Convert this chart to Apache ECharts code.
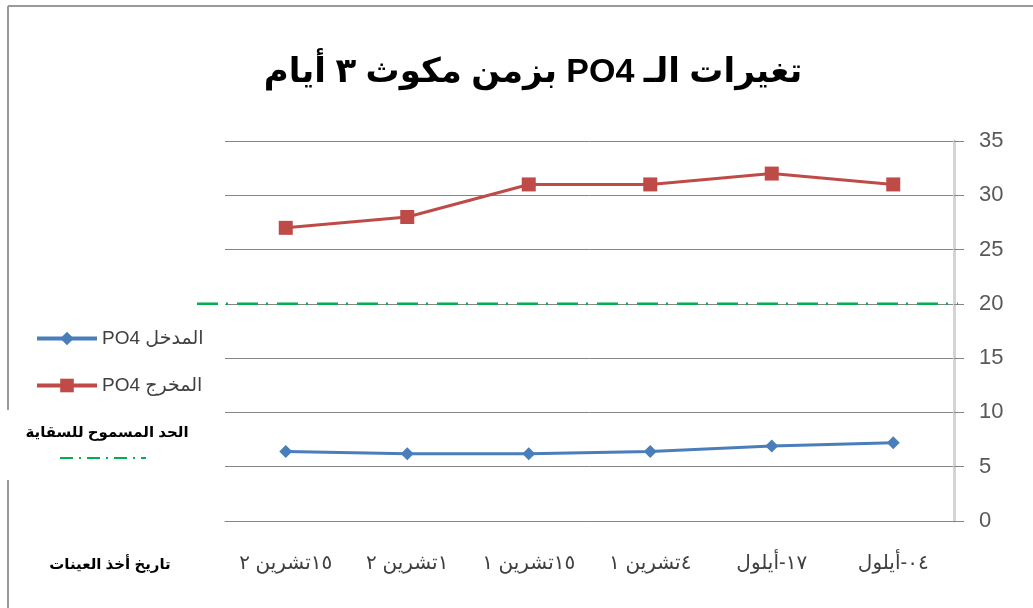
<!DOCTYPE html>
<html>
<head>
<meta charset="utf-8">
<script src="https://cdn.jsdelivr.net/npm/echarts@6/dist/echarts.min.js"></script>
<style>html,body{margin:0;padding:0;background:#fff}#c{width:1033px;height:608px}</style>
</head>
<body>
<div id="c"></div>
<script>
// ---- data ----
const titleText = 'تغيرات الـ PO4 بزمن مكوث ٣ أيام';
const categories = ['٠٤-أيلول', '١٧-أيلول', '٤تشرين ١', '١٥تشرين ١', '١تشرين ٢', '١٥تشرين ٢'];
const inputName = 'PO4 المدخل';
const outputName = 'PO4 المخرج';
const inputPO4 = [7.2, 6.9, 6.4, 6.2, 6.2, 6.4];
const outputPO4 = [31, 32, 31, 31, 28, 27];
const limitName = 'الحد المسموح للسقاية';
const limitValue = 20;
const xAxisTitle = 'تاريخ أخذ العينات';
const yMin = 0, yMax = 35, yStep = 5;

const FONT = '"Liberation Sans", "DejaVu Sans", Arial, sans-serif';
const chart = echarts.init(document.getElementById('c'), null, {renderer: 'canvas'});

const option = {
  backgroundColor: '#ffffff',
  animation: false,
  title: {
    text: '\u202B' + titleText + '\u202C',
    left: 528, top: 51, textAlign: 'center',
    textStyle: {fontFamily: FONT, fontWeight: 'bold', fontSize: 34, color: '#000'}
  },
  legend: {
    orient: 'vertical', left: 30, top: 324,
    itemWidth: 60, itemHeight: 17, itemGap: 28,
    lineStyle: {width: 4},
    textStyle: {fontFamily: FONT, fontSize: 19, color: '#404040'},
    data: [inputName, outputName]
  },
  grid: [
    {left: 225, right: 79, top: 141, bottom: 87},
    {left: 197, right: 75, top: 141, bottom: 87}
  ],
  xAxis: [
    {
      type: 'category', gridIndex: 0, data: categories, inverse: true,
      axisLine: {lineStyle: {color: '#868686', width: 1}},
      axisTick: {length: 8, lineStyle: {color: '#868686'}},
      axisLabel: {margin: 32, fontSize: 20, color: '#404040', fontFamily: FONT}
    },
    {type: 'value', gridIndex: 1, min: 0, max: 1, show: false}
  ],
  yAxis: [
    {
      type: 'value', gridIndex: 0, position: 'right', min: yMin, max: yMax, interval: yStep,
      axisLine: {show: true, lineStyle: {color: '#d4d4d4', width: 3}},
      axisTick: {show: true, length: 10, lineStyle: {color: '#868686'}},
      splitLine: {lineStyle: {color: '#868686', width: 1}},
      axisLabel: {margin: 25, fontSize: 22, color: '#595959', fontFamily: FONT}
    },
    {type: 'value', gridIndex: 1, min: yMin, max: yMax, show: false}
  ],
  series: [
    {
      name: limitName, type: 'line', xAxisIndex: 1, yAxisIndex: 1,
      data: [[0, limitValue], [1, limitValue]], symbol: 'none', z: 3,
      lineStyle: {color: '#00B050', width: 2.5, type: [21, 8, 2, 9]}
    },
    {
      name: inputName, type: 'line', data: inputPO4,
      symbol: 'diamond', symbolSize: 13, z: 4,
      lineStyle: {color: '#4A7EBB', width: 3},
      itemStyle: {color: '#4A7EBB'}
    },
    {
      name: outputName, type: 'line', data: outputPO4,
      symbol: 'rect', symbolSize: 14, z: 4,
      lineStyle: {color: '#BE4B48', width: 3},
      itemStyle: {color: '#BE4B48'}
    }
  ],
  graphic: [
    {type: 'line', shape: {x1: 8, y1: 6, x2: 8, y2: 410}, style: {stroke: '#9a9a9a', lineWidth: 2}},
    {type: 'line', shape: {x1: 8, y1: 480, x2: 8, y2: 608}, style: {stroke: '#9a9a9a', lineWidth: 2}},
    {type: 'line', shape: {x1: 8, y1: 6, x2: 1033, y2: 6}, style: {stroke: '#9a9a9a', lineWidth: 2}},
    {type: 'text', x: 107, y: 433, style: {text: limitName, font: 'bold 15px ' + FONT, fill: '#000', align: 'center', verticalAlign: 'middle'}},
    {type: 'line', shape: {x1: 60, y1: 458, x2: 146, y2: 458}, style: {stroke: '#00B050', lineWidth: 2, lineDash: [13, 6, 2, 6]}},
    {type: 'text', x: 110, y: 565, style: {text: xAxisTitle, font: 'bold 15px ' + FONT, fill: '#000', align: 'center', verticalAlign: 'middle'}}
  ]
};
chart.setOption(option);
</script>
</body>
</html>
